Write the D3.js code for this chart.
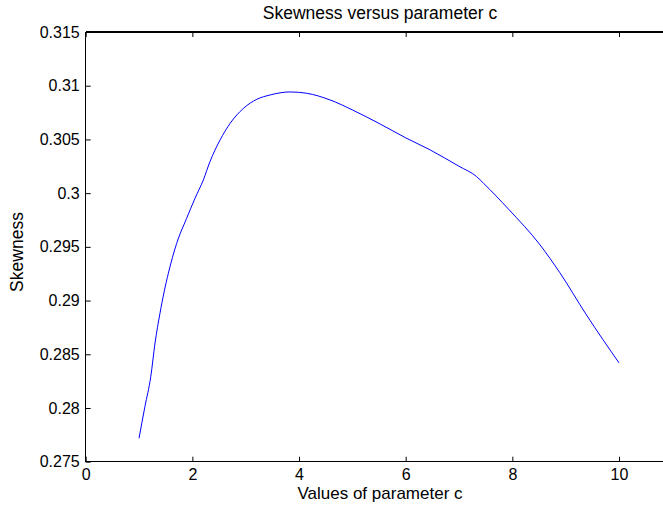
<!DOCTYPE html>
<html>
<head>
<meta charset="utf-8">
<script src="https://cdn.jsdelivr.net/npm/d3@7"></script>
<style>
  html, body { margin: 0; padding: 0; background: #fff; }
  svg text { font-family: "Liberation Sans", Arial, Helvetica, sans-serif; fill: #000; }
</style>
</head>
<body>
<svg id="chart" width="663" height="510"></svg>
<script>
// ---- Data ----
const paramC = [1.0, 1.11, 1.22, 1.30, 1.393, 1.47, 1.55, 1.706, 1.893, 2.05, 2.206, 2.33, 2.52, 2.71, 2.96, 3.21, 3.46, 3.83, 4.14, 4.58, 5.0, 5.52, 6.0, 6.46, 7.0, 7.33, 7.46, 7.93, 8.52, 8.89, 9.39, 10.0];
const skewness = [0.27718, 0.28012, 0.28291, 0.28605, 0.28882, 0.29080, 0.29254, 0.29533, 0.29766, 0.29952, 0.30123, 0.30293, 0.30495, 0.30651, 0.30790, 0.30874, 0.30914, 0.30942, 0.30930, 0.30868, 0.30775, 0.30644, 0.30515, 0.30402, 0.30250, 0.30154, 0.30092, 0.29850, 0.29518, 0.29260, 0.28866, 0.28420];
const xTicks = [0, 2, 4, 6, 8, 10];
const yTicks = [0.275, 0.28, 0.285, 0.29, 0.295, 0.3, 0.305, 0.31, 0.315];
const yTickLabels = ["0.275", "0.28", "0.285", "0.29", "0.295", "0.3", "0.305", "0.31", "0.315"];
const titleText = "Skewness versus parameter c";
const xLabelText = "Values of parameter c";
const yLabelText = "Skewness";

// ---- Layout ----
const plotLeft = 85.7, plotTop = 32, plotBottom = 461.7;
const x = d3.scaleLinear().domain([0, 10]).range([plotLeft, plotLeft + 533.3]);
const xEnd = 663;
const y = d3.scaleLinear().domain([0.275, 0.315]).range([plotBottom, plotTop]);

const svg = d3.select("#chart");

// Axes (MATLAB style inward ticks)
const xAxis = d3.axisBottom(x).tickValues(xTicks).tickFormat(d3.format("d")).tickSizeInner(-5).tickSizeOuter(0).tickPadding(7);
const gx = svg.append("g").attr("transform", `translate(0,${plotBottom})`).call(xAxis);
gx.select(".domain").remove();
gx.selectAll("text").attr("font-size", 16).attr("dy", "0.71em");

const xTop = d3.axisTop(x).tickValues(xTicks).tickFormat("").tickSizeInner(-5).tickSizeOuter(0);
const gxt = svg.append("g").attr("transform", `translate(0,${plotTop})`).call(xTop);
gxt.select(".domain").remove();

const yAxis = d3.axisLeft(y).tickValues(yTicks).tickFormat((d, i) => yTickLabels[i]).tickSizeInner(-5).tickSizeOuter(0).tickPadding(6);
const gy = svg.append("g").attr("transform", `translate(${plotLeft},0)`).call(yAxis);
gy.select(".domain").remove();
gy.selectAll("text").attr("font-size", 16);

svg.selectAll(".tick line").attr("stroke", "#000").attr("stroke-width", 1);

// Box lines (left, bottom, top; right side is cropped)
const frame = svg.append("g").attr("stroke", "#000").attr("stroke-width", 1.3).attr("shape-rendering", "crispEdges");
frame.append("line").attr("x1", plotLeft).attr("x2", xEnd).attr("y1", plotBottom).attr("y2", plotBottom);
frame.append("line").attr("x1", plotLeft).attr("x2", xEnd).attr("y1", plotTop).attr("y2", plotTop);
frame.append("line").attr("x1", plotLeft).attr("x2", plotLeft).attr("y1", plotTop).attr("y2", plotBottom);

// Curve
const pts = paramC.map((c, i) => [c, skewness[i]]);
svg.append("path")
  .datum(pts)
  .attr("fill", "none")
  .attr("stroke", "#0000ff")
  .attr("stroke-width", 1)
  .attr("d", d3.line().x(d => x(d[0])).y(d => y(d[1])).curve(d3.curveMonotoneX));

// Labels
svg.append("text").attr("x", 380).attr("y", 19).attr("text-anchor", "middle").attr("font-size", 17.5).text(titleText);
svg.append("text").attr("x", 380).attr("y", 499).attr("text-anchor", "middle").attr("font-size", 17).text(xLabelText);
svg.append("text").attr("transform", "translate(23,252) rotate(-90)").attr("text-anchor", "middle").attr("font-size", 17.5).text(yLabelText);
</script>
</body>
</html>
